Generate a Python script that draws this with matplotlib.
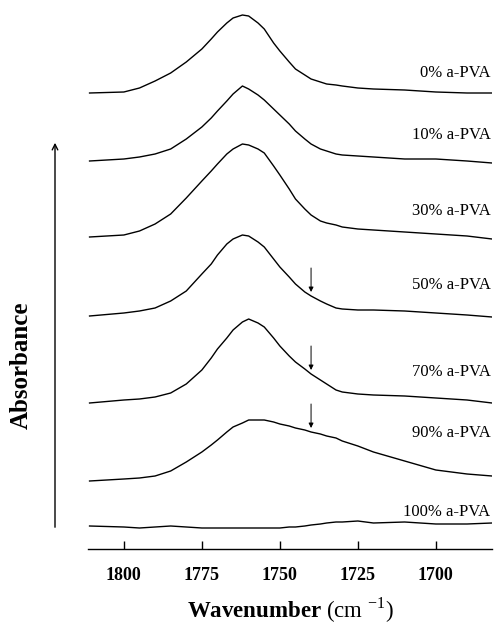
import numpy as np
import matplotlib
matplotlib.use("Agg")
import matplotlib.pyplot as plt

# =========================
# DATA (arbitrary absorbance units)
# =========================
wavenumber = [1811, 1800, 1795, 1790, 1785, 1780, 1775, 1772, 1770, 1767, 1765, 1762,
              1760, 1757, 1755, 1752, 1750, 1747, 1745, 1742, 1740, 1737, 1735, 1732,
              1730, 1725, 1720, 1710, 1700, 1690, 1682]

samples = ["0% a-PVA", "10% a-PVA", "30% a-PVA", "50% a-PVA",
           "70% a-PVA", "90% a-PVA", "100% a-PVA"]

abs_0 = [0, 1, 5, 12, 20, 31, 44, 54, 61, 70, 75, 78, 77, 70, 64, 50, 42, 31, 24, 18,
         14, 11, 9, 8, 7, 5, 4, 3, 1, 0, 0]
abs_10 = [0, 2, 4, 7, 12, 22, 34, 43, 50, 60, 67, 75, 72, 66, 61, 52, 46, 37, 30, 22,
          17, 12, 10, 7, 6, 5, 4, 2, 2, 0, -2]
abs_30 = [0, 2, 6, 13, 23, 39, 56, 66, 73, 83, 88, 93, 92, 88, 84, 71, 62, 48, 38, 28,
          22, 16, 14, 12, 10, 8, 7, 5, 3, 1, -2]
abs_50 = [0, 3, 5, 8, 15, 25, 42, 52, 61, 72, 77, 81, 80, 74, 69, 57, 49, 39, 32, 24,
          20, 15, 12, 8, 7, 6, 6, 5, 3, 1, -1]
abs_70 = [0, 3, 4, 6, 10, 19, 33, 45, 54, 65, 73, 81, 84, 80, 76, 65, 57, 47, 41, 34,
          29, 23, 19, 13, 11, 9, 8, 7, 5, 3, 0]
abs_90 = [0, 2, 3, 5, 10, 19, 29, 36, 41, 49, 54, 58, 61, 61, 61, 59, 57, 55, 53, 51,
          49, 47, 45, 43, 40, 35, 29, 20, 11, 7, 5]
abs_100 = [0, -1, -2, -1, 0, -1, -2, -2, -2, -2, -2, -2, -2, -2, -2, -2, -2, -1, -1, 0,
           1, 2, 3, 4, 4, 5, 3, 4, 2, 2, 3]

spectra = [abs_0, abs_10, abs_30, abs_50, abs_70, abs_90, abs_100]
offsets = [456, 388, 312, 233, 146, 68, 23]

# shoulder marked with arrows (50, 70, 90 %)
arrow_wn = 1740
arrow_samples = [3, 4, 5]

xticks = [1800, 1775, 1750, 1725, 1700]

# =========================
# STYLE
# =========================
plt.rcParams['font.family'] = ['Liberation Serif', 'DejaVu Serif']
plt.rcParams['mathtext.fontset'] = 'custom'
plt.rcParams['mathtext.rm'] = 'Liberation Serif'
plt.rcParams['mathtext.bf'] = 'Liberation Serif:bold'

fig = plt.figure(figsize=(4.95, 6.3), dpi=100)
ax = fig.add_axes([88 / 495, 81 / 630, 404 / 495, 549 / 630])

wn = np.array(wavenumber)
label_y = [476, 414, 338, 264, 177, 116, 37]

for i, (spec, off) in enumerate(zip(spectra, offsets)):
    y = np.array(spec) + off
    ax.plot(wn, y, color='black', linewidth=1.0)
    ax.text(1682.5, label_y[i], samples[i], ha='right', va='center', fontsize=12)

for i in arrow_samples:
    y_tip = np.interp(arrow_wn, wn[::-1], (np.array(spectra[i]) + offsets[i])[::-1]) + 4
    ax.annotate("", xy=(arrow_wn, y_tip), xytext=(arrow_wn, y_tip + 24),
                arrowprops=dict(arrowstyle='-|>', color='black', lw=0.7,
                                mutation_scale=7, shrinkA=0, shrinkB=0))

ax.set_xlim(1811.5, 1682)
ax.set_ylim(0, 549)
ax.set_xticks(xticks)
ax.set_xticklabels([str(t) for t in xticks], fontsize=13, fontweight='bold')
ax.tick_params(axis='x', direction='in', length=6, width=1.0, pad=13)
ax.set_yticks([])
for s in ['left', 'top', 'right']:
    ax.spines[s].set_visible(False)
ax.spines['bottom'].set_linewidth(1.0)

ax.set_xlabel(r"$\mathbf{Wavenumber}$ (cm $^{-1}$)", fontsize=16.5, labelpad=8)

# absorbance arrow and label on the left
fig.add_artist(matplotlib.patches.FancyArrowPatch(
    (55 / 495, 100 / 630), (55 / 495, 490 / 630), transform=fig.transFigure,
    arrowstyle='->', mutation_scale=10, lw=1.0, color='black'))
fig.text(21 / 495, 1 - 365 / 630, "Absorbance", rotation=90, ha='center', va='center',
         fontsize=18, fontweight='bold')

plt.savefig("out.png", dpi=100)
